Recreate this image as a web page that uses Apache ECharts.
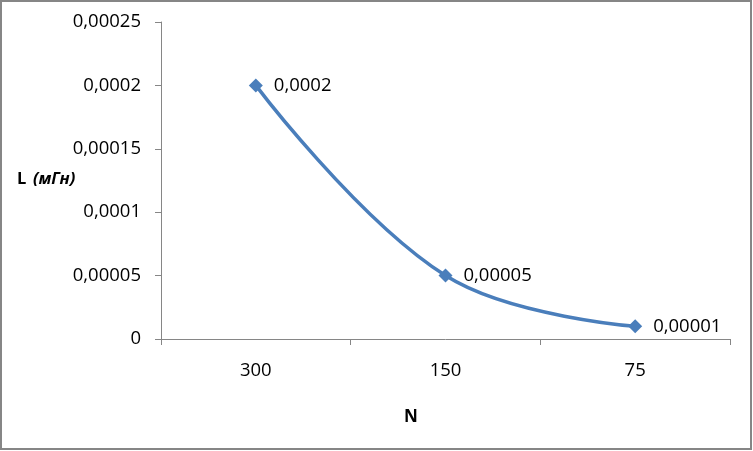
<!DOCTYPE html>
<html><head><meta charset="utf-8">
<script src="https://cdn.jsdelivr.net/npm/echarts@6/dist/echarts.min.js"></script>
<style>html,body{margin:0;padding:0;background:#fff}#c{width:753px;height:451px}</style>
</head><body><div id="c"></div>
<script>
const categories = ['300', '150', '75'];
const values = [0.0002, 0.00005, 0.00001];
const yTicks = { min: 0, max: 0.00025, interval: 0.00005 };
const yTitle = 'L';
const yUnit = '(мГн)';
const xTitle = 'N';

function fmt(v) {
  return String(Number(v.toFixed(8))).replace('.', ',');
}
const FONT = 'Open Sans';
const FS = 18.5;
const chart = echarts.init(document.getElementById('c'));
chart.setOption({
  animation: false,
  textStyle: { fontFamily: FONT },
  grid: { left: 161, right: 23, top: 22, bottom: 112 },
  xAxis: {
    type: 'category', data: categories, boundaryGap: true,
    axisLine: { lineStyle: { color: '#868686', width: 1 } },
    axisTick: { show: true, length: 6, lineStyle: { color: '#868686' } },
    axisLabel: { color: '#000', fontSize: FS, margin: 22, fontFamily: FONT },
    splitLine: { show: false }
  },
  yAxis: {
    type: 'value', min: yTicks.min, max: yTicks.max, interval: yTicks.interval,
    axisLine: { show: true, lineStyle: { color: '#868686', width: 1 } },
    axisTick: { show: true, length: 6, lineStyle: { color: '#868686' } },
    axisLabel: { color: '#000', fontSize: FS, margin: 20, fontFamily: FONT, formatter: fmt },
    splitLine: { show: false }
  },
  series: [{
    type: 'line', data: values, smooth: 0.4,
    symbol: 'diamond', symbolSize: 14,
    lineStyle: { color: '#4a7ebb', width: 3.5 },
    itemStyle: { color: '#4a7ebb' },
    label: { show: true, position: 'right', distance: 11, color: '#000', fontSize: FS, fontFamily: FONT, formatter: p => fmt(p.value) }
  }],
  graphic: [
    { type: 'rect', shape: { x: 1, y: 1, width: 750, height: 448 }, style: { fill: 'none', stroke: '#868686', lineWidth: 2 }, silent: true },
    { type: 'text', left: 17, top: 171, style: {
        text: '{b|' + yTitle + '}  {i|' + yUnit + '}',
        rich: { b: { fontWeight: 'bold', fontSize: 16.5, fontFamily: FONT, fill: '#000' },
                i: { fontWeight: 'bold', fontStyle: 'italic', fontSize: 16.5, fontFamily: FONT, fill: '#000' } } } },
    { type: 'text', left: 404, top: 409, style: { text: xTitle, fontWeight: 'bold', fontSize: 17, fontFamily: FONT, fill: '#000' } }
  ]
});
</script></body></html>
